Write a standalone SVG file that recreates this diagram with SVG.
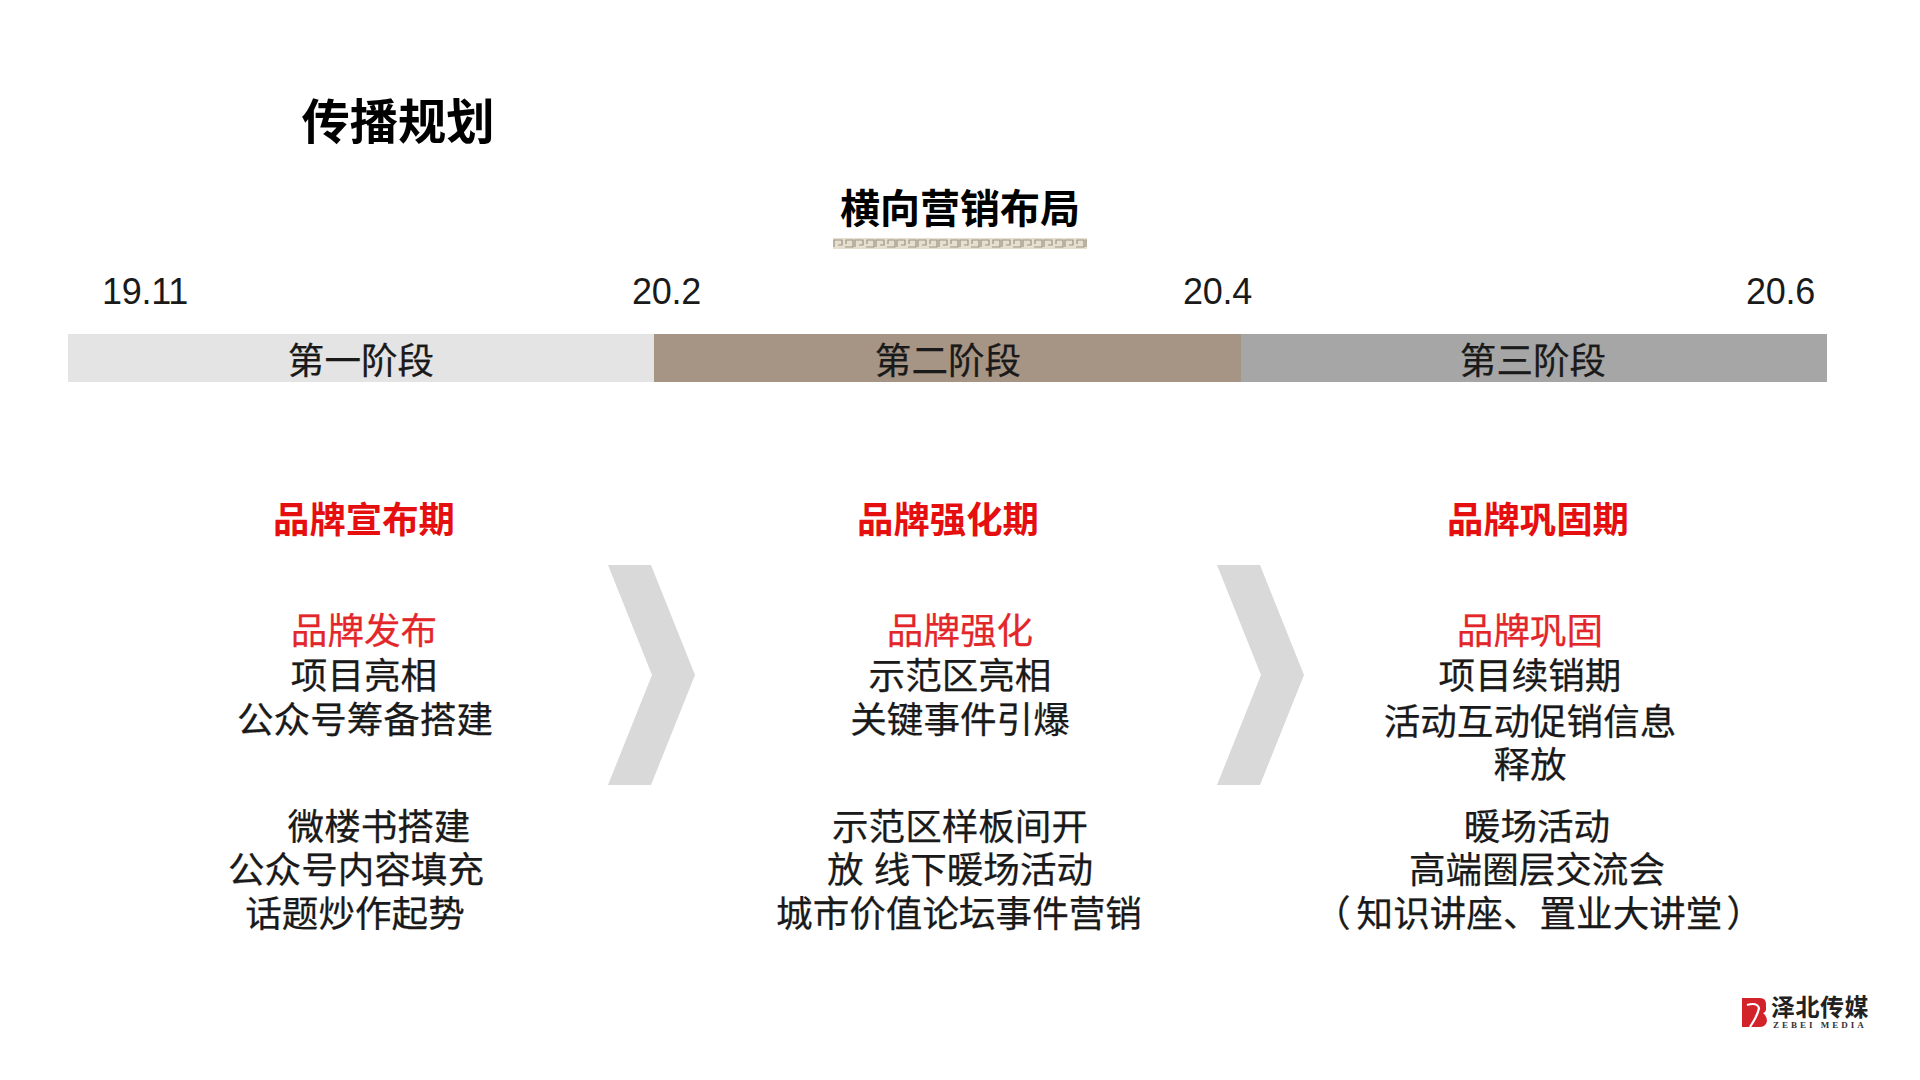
<svg xmlns="http://www.w3.org/2000/svg" width="1920" height="1080" viewBox="0 0 1920 1080">
<defs>
<pattern id="key" x="833" y="238" width="21" height="11" patternUnits="userSpaceOnUse">
<rect width="21" height="11" fill="#e6dfcf"/>
<path d="M1 9V2H9V7H5M12 9H20V2H13V6" fill="none" stroke="#9c9484" stroke-width="1.2"/>
</pattern>
</defs>
<style>
text{font-family:"Liberation Sans","Noto Sans CJK SC",sans-serif;text-anchor:middle;fill:#1a1a1a}
.b{font-weight:700;fill:#000}
.h{font-size:36.4px;font-weight:700;fill:#e60f0f}
.t{font-size:36.6px;stroke:#1a1a1a;stroke-width:.25}
.r{fill:#e3262a;stroke:#e3262a}
.c{fill:#d9d9d9}
.d{font-size:36px;text-anchor:start;letter-spacing:-.3px}
</style>
<rect width="1920" height="1080" fill="#fff"/>
<g id="title"><text class="b" x="398" y="139" font-size="48.3">传播规划</text></g>
<g id="subtitle"><text class="b" x="960" y="223" font-size="40">横向营销布局</text>
<rect x="833" y="238" width="254" height="11" fill="url(#key)"/></g>
<g id="dates">
<text class="d" x="102" y="304">19.11</text>
<text class="d" x="632" y="304">20.2</text>
<text class="d" x="1183" y="304">20.4</text>
<text class="d" x="1746" y="304">20.6</text>
</g>
<g id="stage1"><rect x="68" y="334" width="587" height="48" fill="#e4e4e4"/><text class="t" x="361" y="374">第一阶段</text></g>
<g id="stage2"><rect x="654" y="334" width="587" height="48" fill="#a69484"/><text class="t" x="948" y="374">第二阶段</text></g>
<g id="stage3"><rect x="1241" y="334" width="586" height="48" fill="#a6a6a6"/><text class="t" x="1533" y="374">第三阶段</text></g>
<g id="col1">
<text class="h" x="364" y="533">品牌宣布期</text>
<text class="t r" x="364" y="644">品牌发布</text>
<text class="t" x="364" y="689">项目亮相</text>
<text class="t" x="365" y="733">公众号筹备搭建</text>
<text class="t" x="379" y="840">微楼书搭建</text>
<text class="t" x="356" y="883">公众号内容填充</text>
<text class="t" x="355" y="927">话题炒作起势</text>
</g>
<g id="col2">
<text class="h" x="948" y="533">品牌强化期</text>
<text class="t r" x="960" y="644">品牌强化</text>
<text class="t" x="960" y="689">示范区亮相</text>
<text class="t" x="960" y="733">关键事件引爆</text>
<text class="t" x="960" y="840">示范区样板间开</text>
<text class="t" x="960" y="883">放 线下暖场活动</text>
<text class="t" x="959" y="927">城市价值论坛事件营销</text>
</g>
<g id="col3">
<text class="h" x="1538" y="533">品牌巩固期</text>
<text class="t r" x="1530" y="644">品牌巩固</text>
<text class="t" x="1530" y="689">项目续销期</text>
<text class="t" x="1530" y="735">活动互动促销信息</text>
<text class="t" x="1530" y="778">释放</text>
<text class="t" x="1537" y="840">暖场活动</text>
<text class="t" x="1537" y="883">高端圈层交流会</text>
<text class="t" x="1314" y="927" style="text-anchor:start">（<tspan dx="6">知识讲座、置业大讲堂</tspan><tspan dx="4">）</tspan></text>
</g>
<g id="chevrons">
<polygon class="c" points="608,565 651,565 695,675 651,785 608,785 652,675"/>
<polygon class="c" points="1217,565 1260,565 1304,675 1260,785 1217,785 1261,675"/>
</g>
<g id="logo">
<path d="M1742 998H1760Q1766 998 1766 1004V1009Q1766 1012 1763 1013Q1767 1016 1767 1021Q1766 1027 1759 1027H1742Z" fill="#d2222a"/>
<path d="M1747 1005Q1757 1002 1759 1008Q1758 1015 1750 1027" fill="none" stroke="#fff" stroke-width="2.2"/>
<text class="b" x="1820" y="1016" font-size="24" style="letter-spacing:.5px;fill:#222">泽北传媒</text>
<text class="b" x="1820" y="1027.500" font-size="9" style="letter-spacing:3px;font-family:'Liberation Serif',serif;fill:#333">ZEBEI MEDIA</text>
</g>
</svg>
